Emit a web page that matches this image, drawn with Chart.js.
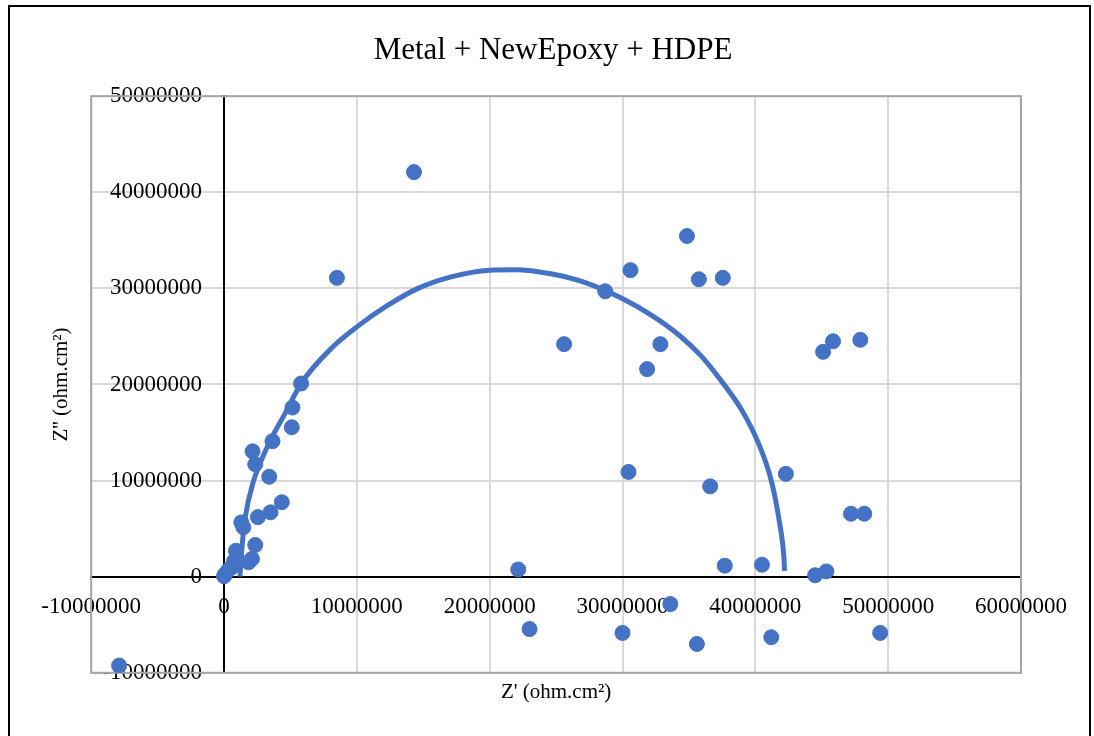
<!DOCTYPE html>
<html>
<head>
<meta charset="utf-8">
<title>Metal + NewEpoxy + HDPE</title>
<script src="https://cdn.jsdelivr.net/npm/chart.js@4.4.0/dist/chart.umd.min.js"></script>
<style>
    html, body { margin: 0; padding: 0; background: #fff; }
    #wrap { width: 1094px; height: 736px; position: relative; }
</style>
</head>
<body>
<div id="wrap"><canvas id="nyquist" width="1094" height="736"></canvas></div>
<script>
// measured impedance points (ohm.cm2)
const zReal = [
    -7900000, 14300000, 8500000, 5800000, 5150000, 5100000, 3650000, 2150000,
    2350000, 3400000, 4350000, 3500000, 2550000, 1300000, 1450000, 2350000,
    900000, 2100000, 1850000, 750000, 600000, 350000, 100000, 0,
    22150000, 23000000, 25600000, 28700000, 30600000, 30450000, 30000000, 31850000,
    32850000, 33600000, 34850000, 35750000, 35600000, 36600000, 37550000, 37700000,
    40500000, 41200000, 42300000, 44500000, 45100000, 45850000, 45350000, 47200000,
    47900000, 48200000, 49400000
];
const zImag = [
    -9250000, 42100000, 31100000, 20100000, 17600000, 15550000, 14100000, 13050000,
    11700000, 10400000, 7750000, 6700000, 6200000, 5650000, 5150000, 3300000,
    2700000, 1850000, 1500000, 1600000, 1000000, 750000, 300000, 50000,
    750000, -5450000, 24200000, 29700000, 31900000, 10900000, -5850000, 21600000,
    24200000, -2850000, 35450000, 30950000, -7000000, 9400000, 31100000, 1150000,
    1250000, -6300000, 10700000, 150000, 23400000, 24500000, 550000, 6550000,
    24650000, 6550000, -5850000
];

// fitted arc
const fitReal = [
    1200000, 1350000, 1600000, 2230000, 2860000, 3600000, 4600000, 5800000,
    8100000, 10100000, 12400000, 14600000, 17100000, 20000000, 21900000, 24700000,
    27200000, 30050000, 32200000, 34200000, 35900000, 37200000, 38950000, 40200000,
    41200000, 41800000, 42150000, 42200000
];
const fitImag = [
    0, 3000000, 6200000, 10000000, 12300000, 14500000, 17000000, 20100000,
    23800000, 26100000, 28300000, 30000000, 31200000, 31900000, 31950000, 31500000,
    30600000, 28900000, 27200000, 25200000, 23000000, 20800000, 17400000, 14000000,
    10000000, 5800000, 2000000, 600000
];

const xRange = [-10000000, 60000000];
const yRange = [-10000000, 50000000];
const tickStep = 10000000;

const serif = 'Liberation Serif';
const blue = '#4472C4';

function toPoints(xs, ys) {
    return xs.map((x, i) => ({ x: x, y: ys[i] }));
}

const plainNumber = (value) => String(value);

// gray frame round the plot area and black frame round the whole chart
const framePlugin = {
    id: 'frames',
    beforeDatasetsDraw(chart) {
        const { ctx, chartArea } = chart;
        ctx.save();
        ctx.strokeStyle = '#a6a6a6';
        ctx.lineWidth = 2;
        ctx.strokeRect(chartArea.left, chartArea.top,
            chartArea.right - chartArea.left, chartArea.bottom - chartArea.top);
        ctx.restore();
    },
    afterDraw(chart) {
        const ctx = chart.ctx;
        ctx.save();
        ctx.strokeStyle = '#000';
        ctx.lineWidth = 2;
        ctx.strokeRect(9, 6, 1081, 740);
        ctx.restore();
    }
};

// labels of an axis placed at x = 0 sit flush on the line; move them left a bit
const yLabelGap = 22;
const tickShiftPlugin = {
    id: 'tickShift',
    beforeDraw(chart) {
        const items = chart.scales.y0.getLabelItems(chart.chartArea);
        if (items._shifted) return;
        items.forEach((item) => { item.options.translation[0] -= yLabelGap; });
        items._shifted = true;
    }
};

const ctx = document.getElementById('nyquist').getContext('2d');
const chart = new Chart(ctx, {
    type: 'scatter',
    data: {
        datasets: [{
            label: 'Measured',
            data: toPoints(zReal, zImag),
            backgroundColor: blue,
            borderColor: blue,
            pointRadius: 7.5,
            pointHoverRadius: 7.5,
            showLine: false,
            order: 2
        }, {
            label: 'Fit',
            type: 'line',
            data: toPoints(fitReal, fitImag),
            borderColor: blue,
            borderWidth: 5,
            pointRadius: 0,
            fill: false,
            cubicInterpolationMode: 'monotone',
            order: 1
        }]
    },
    options: {
        responsive: false,
        animation: false,
        layout: { padding: { left: 12, right: 0, top: 0, bottom: 0 } },
        plugins: {
            legend: { display: false },
            tooltip: { enabled: false },
            title: {
                display: true,
                text: 'Metal + NewEpoxy + HDPE',
                color: '#000',
                font: { family: serif, size: 31, weight: 'normal' },
                padding: { top: 32, bottom: 27 }
            }
        },
        scales: {
            x: {
                type: 'linear',
                position: 'bottom',
                min: xRange[0],
                max: xRange[1],
                ticks: { display: false, stepSize: tickStep },
                grid: { color: '#d9d9d9', lineWidth: 2, drawTicks: false },
                border: { display: false },
                title: {
                    display: true,
                    text: "Z' (ohm.cm²)",
                    color: '#000',
                    font: { family: serif, size: 21 },
                    padding: { top: 7, bottom: 31 }
                }
            },
            y: {
                type: 'linear',
                position: 'left',
                min: yRange[0],
                max: yRange[1],
                ticks: { display: false, stepSize: tickStep },
                grid: { color: '#d9d9d9', lineWidth: 2, drawTicks: false },
                border: { display: false },
                title: {
                    display: true,
                    text: "Z'' (ohm.cm²)",
                    color: '#000',
                    font: { family: serif, size: 21 },
                    padding: { top: 37, bottom: 17 }
                }
            },
            // empty strip that keeps the plot clear of the right edge
            yr: {
                type: 'linear',
                position: 'right',
                ticks: { display: false },
                grid: { display: false, drawTicks: false },
                border: { display: false },
                afterFit(scale) { scale.width = 73; }
            },
            x0: {
                type: 'linear',
                position: { y: 0 },
                min: xRange[0],
                max: xRange[1],
                grid: { display: false, drawTicks: false },
                border: { display: true, color: '#000', width: 2 },
                ticks: {
                    stepSize: tickStep,
                    color: '#000',
                    font: { family: serif, size: 23 },
                    padding: 16,
                    maxRotation: 0,
                    autoSkip: false,
                    callback: plainNumber
                }
            },
            y0: {
                type: 'linear',
                position: { x: 0 },
                min: yRange[0],
                max: yRange[1],
                grid: { display: false, drawTicks: false },
                border: { display: true, color: '#000', width: 2 },
                ticks: {
                    stepSize: tickStep,
                    color: '#000',
                    font: { family: serif, size: 23 },
                    autoSkip: false,
                    callback: plainNumber
                }
            }
        }
    },
    plugins: [framePlugin, tickShiftPlugin]
});
</script>
</body>
</html>
